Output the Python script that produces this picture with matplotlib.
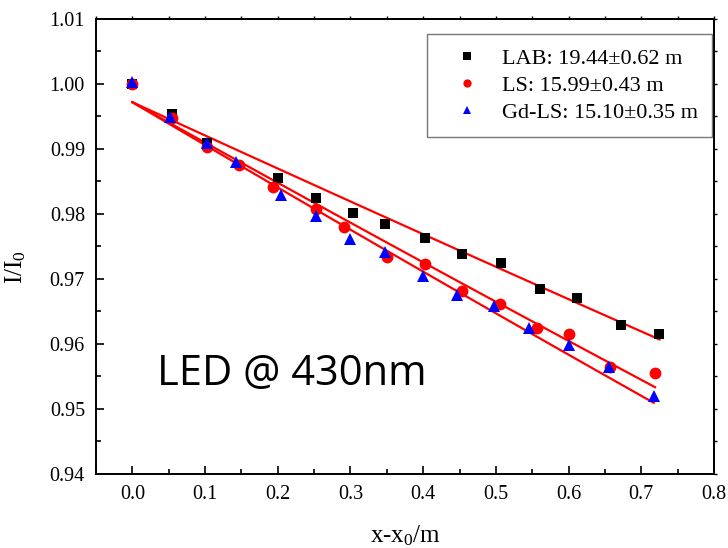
import numpy as np
import matplotlib
matplotlib.use("Agg")
import matplotlib.pyplot as plt
from matplotlib.ticker import MultipleLocator, FormatStrFormatter

# ---- data ----
lab_x = [0.0, 0.055, 0.102, 0.200, 0.252, 0.303, 0.348, 0.403, 0.454, 0.507, 0.560, 0.612, 0.672, 0.725]
lab_y = [1.0000, 0.9954, 0.9910, 0.9856, 0.9825, 0.9802, 0.9785, 0.9763, 0.9738, 0.9724, 0.9685, 0.9671, 0.9630, 0.9616]

ls_x = [0.0, 0.055, 0.102, 0.146, 0.193, 0.252, 0.291, 0.350, 0.403, 0.453, 0.505, 0.556, 0.600, 0.657, 0.719]
ls_y = [1.0000, 0.9948, 0.9903, 0.9876, 0.9842, 0.9807, 0.9780, 0.9734, 0.9723, 0.9682, 0.9662, 0.9625, 0.9615, 0.9565, 0.9556]

gd_x = [0.0, 0.052, 0.102, 0.142, 0.204, 0.252, 0.300, 0.347, 0.400, 0.447, 0.498, 0.546, 0.600, 0.656, 0.717]
gd_y = [1.0003, 0.9950, 0.9909, 0.9880, 0.9830, 0.9797, 0.9762, 0.9741, 0.9704, 0.9676, 0.9658, 0.9625, 0.9599, 0.9564, 0.9520]

# exponential fit parameters (I = A * exp(-x / L))
fit_A = 0.9972
fit_L = [19.44, 15.99, 15.10]
labels = ["LAB: 19.44\u00b10.62 m", "LS: 15.99\u00b10.43 m", "Gd-LS: 15.10\u00b10.35 m"]

plt.rcParams['font.family'] = ['Liberation Serif', 'DejaVu Serif']
plt.rcParams['mathtext.fontset'] = 'custom'
plt.rcParams['mathtext.rm'] = 'Liberation Serif'
plt.rcParams['mathtext.it'] = 'Liberation Serif'

fig = plt.figure(figsize=(7.28, 5.48), dpi=100)
ax = fig.add_axes([96/728, 1-474/548, (714-96)/728, (474-19)/548])

series = [(lab_x, lab_y, 's', 'black', 7.5),
          (ls_x, ls_y, 'o', 'red', 8.5),
          (gd_x, gd_y, '^', 'blue', 9)]

handles = []
for (xs, ys, m, c, ms), L, lab in zip(series, fit_L, labels):
    h, = ax.plot(xs, ys, linestyle='none', marker=m, color=c, markersize=ms,
                 markeredgewidth=0, label=lab, zorder=3)
    handles.append(h)
    xf = np.linspace(0, max(xs), 100)
    ax.plot(xf, fit_A*np.exp(-xf/L), color='red', lw=1.6, zorder=2)

ax.set_xlim(-0.05, 0.8)
ax.set_ylim(0.94, 1.01)
ax.xaxis.set_major_locator(MultipleLocator(0.1))
ax.xaxis.set_minor_locator(MultipleLocator(0.05))
ax.yaxis.set_major_locator(MultipleLocator(0.01))
ax.yaxis.set_minor_locator(MultipleLocator(0.005))
ax.xaxis.set_major_formatter(FormatStrFormatter('%.1f'))
ax.yaxis.set_major_formatter(FormatStrFormatter('%.2f'))

ax.tick_params(which='both', direction='in', labelsize=14.5, top=False, right=False)
ax.tick_params(which='major', length=6, width=1.2, pad=8)
ax.tick_params(which='minor', length=3.5, width=1.2)
for s in ax.spines.values():
    s.set_linewidth(1.4)

# small outward ticks on top and right
ax_t = ax.secondary_xaxis('top')
ax_t.xaxis.set_major_locator(MultipleLocator(0.1))
ax_t.xaxis.set_minor_locator(MultipleLocator(0.05))
ax_t.tick_params(which='both', direction='out', length=2, width=1, labeltop=False)
ax_t.spines['top'].set_linewidth(1.4)
ax_r = ax.secondary_yaxis('right')
ax_r.yaxis.set_major_locator(MultipleLocator(0.01))
ax_r.yaxis.set_minor_locator(MultipleLocator(0.005))
ax_r.tick_params(which='both', direction='out', length=2, width=1, labelright=False)
ax_r.spines['right'].set_linewidth(1.4)

ax.set_xlabel(r'x-x$_0$/m', fontsize=18)
ax.xaxis.set_label_coords(0.5, -0.108)
ax.set_ylabel(r'I/I$_0$', fontsize=18)
ax.yaxis.set_label_coords(-0.11, 0.455)

leg = ax.legend(handles=handles, loc='upper right', fontsize=16, frameon=True,
                fancybox=False, edgecolor='#555555', markerscale=0.7,
                handletextpad=0.4, borderpad=0.65, labelspacing=0.28,
                handlelength=2.3, borderaxespad=0,
                bbox_to_anchor=(0.9968, 0.967))
leg.get_frame().set_linewidth(1.0)

ax.text(0.098, 0.22, 'LED @ 430nm', transform=ax.transAxes, fontsize=30,
        family=['Open Sans', 'DejaVu Sans'], va='center', ha='left')

fig.savefig('out.png', dpi=100)
